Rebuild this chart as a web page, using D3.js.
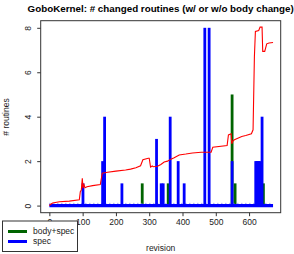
<!DOCTYPE html>
<html><head><meta charset="utf-8">
<script src="https://cdn.jsdelivr.net/npm/d3@7"></script>
<style>body{margin:0;background:#fff}svg{display:block;font-family:"Liberation Sans",Arial,sans-serif}</style>
</head><body><svg id="c" width="294" height="254"></svg>
<script>
const titleText = "GoboKernel: # changed routines (w/ or w/o body change)";
const xLabel = "revision";
const yLabel = "# routines";
const xTicks = [0,100,200,300,400,500,600];
const yTicks = [0,2,4,6,8];
const xLimits = [-26, 695];
const yLimits = [-0.32, 8.32];
const revisionSpan = [0, 672];
// body+spec (green)
const bodySpecRevs = [279, 357, 549, 558, 643];
const bodySpecVals = [1, 1, 5, 1, 1];
// spec (blue)
const specRevs = [101,160,166,218,322,336,342,363,387,405,467,480,549,620,623,626,629,632,639];
const specVals = [1,2,4,1,3,1,1,4,2,1,8,8,2,2,2,2,2,2,4];
// red line
const lineRevs = [0,3,10,30,60,90,93,96,99,101,104,107,113,130,153,159,175,200,229,244,260,274,281,297,300,304,309,312,325,335,345,355,365,375,390,410,430,456,486,491,534,538,546,548,552,556,578,590,607,612,616,619,629,633,639,641,647,653,660,672];
const lineVals = [0,0.05,0.12,0.17,0.2,0.26,0.63,0.7,1.23,0.78,0.95,0.8,0.85,0.9,0.95,1.46,1.5,1.55,1.6,1.64,1.7,1.79,2.06,2.13,2.13,1.73,1.78,1.75,1.77,1.85,1.96,2.0,2.09,2.15,2.28,2.32,2.37,2.40,2.40,2.63,2.70,3.18,3.23,2.78,2.92,2.96,3.11,3.15,3.23,3.41,6.71,7.84,7.88,8.03,8.03,6.94,6.94,7.28,7.32,7.34];
const legendLabels = ["body+spec","spec"];
const legendColors = ["#006400","#0000ff"];

const svg = d3.select("#c");
const L=40.7,R=280.7,T=20.7,B=212.7;
const x = d3.scaleLinear().domain(xLimits).range([L,R]);
const y = d3.scaleLinear().domain(yLimits).range([B,T]);

svg.append("text").attr("x",160.7).attr("y",12).attr("text-anchor","middle")
  .attr("font-weight","bold").attr("font-size",9.8).text(titleText);

// green spikes
svg.append("g").selectAll("line").data(bodySpecRevs).join("line")
  .attr("x1",d=>x(d)).attr("x2",d=>x(d)).attr("y1",y(0)).attr("y2",(d,i)=>y(bodySpecVals[i]))
  .attr("stroke","#006400").attr("stroke-width",2.8);
// baseline
svg.append("line").attr("x1",x(revisionSpan[0])).attr("x2",x(revisionSpan[1]))
  .attr("y1",y(0)).attr("y2",y(0)).attr("stroke","#0000ff").attr("stroke-width",3.4);
svg.append("line").attr("x1",x(revisionSpan[0])).attr("x2",x(revisionSpan[1]))
  .attr("y1",y(0)-2.2).attr("y2",y(0)-2.2).attr("stroke","#8080ff").attr("stroke-width",1)
  .attr("stroke-dasharray","1,3");
// blue spikes
svg.append("g").selectAll("line").data(specRevs).join("line")
  .attr("x1",d=>x(d)).attr("x2",d=>x(d)).attr("y1",y(0)).attr("y2",(d,i)=>y(specVals[i]))
  .attr("stroke","#0000ff").attr("stroke-width",2.8);
// red line
svg.append("path").datum(lineRevs.map((r,i)=>[r,lineVals[i]]))
  .attr("d",d3.line().x(d=>x(d[0])).y(d=>y(d[1])))
  .attr("fill","none").attr("stroke","#ff0000").attr("stroke-width",1.1);

// box
svg.append("rect").attr("x",L).attr("y",T).attr("width",R-L).attr("height",B-T)
  .attr("fill","none").attr("stroke","#333").attr("stroke-width",1);

// x axis
const xa = svg.append("g").attr("transform",`translate(0,${B})`)
  .call(d3.axisBottom(x).tickValues(xTicks).tickSize(3.5).tickSizeOuter(0).tickPadding(3));
xa.select(".domain").remove();
xa.selectAll("line").attr("stroke","#333");
xa.selectAll("text").attr("font-size",8.5).attr("font-family","Liberation Sans, Arial, sans-serif").attr("fill","#222");
// y axis
const ya = svg.append("g").attr("transform",`translate(${L},0)`)
  .call(d3.axisLeft(y).tickValues(yTicks).tickSize(3.5).tickSizeOuter(0));
ya.select(".domain").remove();
ya.selectAll("line").attr("stroke","#333");
ya.selectAll("text").remove();
ya.selectAll(".tick").append("text").attr("transform","translate(-13,0) rotate(-90)")
  .attr("text-anchor","middle").attr("dy","0.35em").attr("font-size",8.5).attr("fill","#222")
  .attr("font-family","Liberation Sans, Arial, sans-serif").text(d=>d);

svg.append("text").attr("x",160.7).attr("y",251).attr("text-anchor","middle").attr("font-size",8.5).attr("fill","#222").text(xLabel);
svg.append("text").attr("transform","translate(9,117) rotate(-90)").attr("text-anchor","middle").attr("font-size",8.5).attr("fill","#222").text(yLabel);

// legend
const lg = svg.append("g");
lg.append("rect").attr("x",2.5).attr("y",221).attr("width",75).attr("height",30.5).attr("fill","#fff").attr("stroke","#333").attr("stroke-width",1);
legendLabels.forEach((lab,i)=>{
  const yy = 231.5 + i*10;
  lg.append("line").attr("x1",8).attr("x2",27).attr("y1",yy).attr("y2",yy).attr("stroke",legendColors[i]).attr("stroke-width",3);
  lg.append("text").attr("x",33).attr("y",yy).attr("dy","0.35em").attr("font-size",8.5).attr("fill","#222").text(lab);
});
</script></body></html>
